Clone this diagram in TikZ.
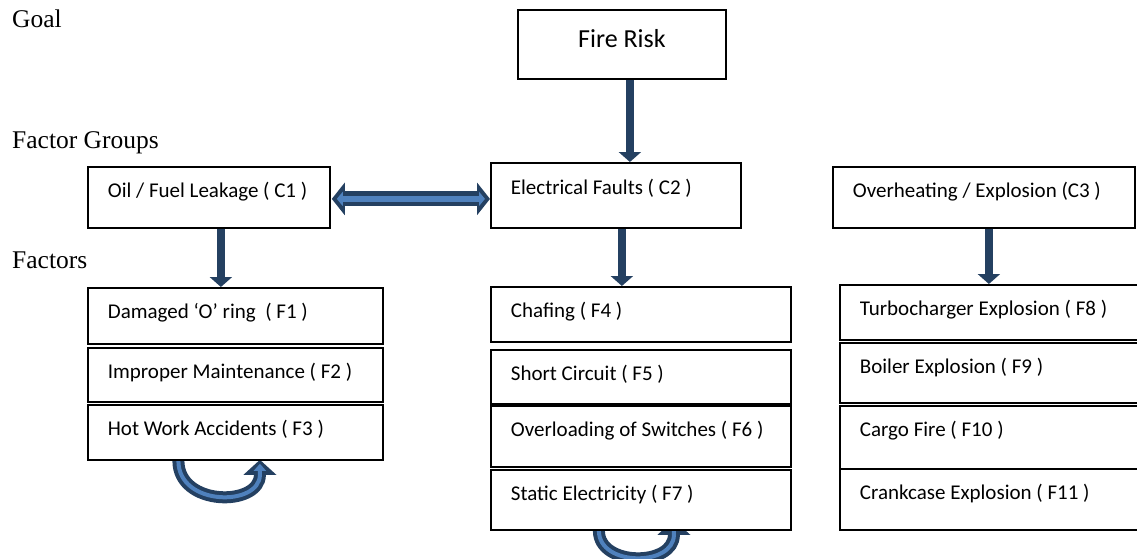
\documentclass[tikz,border=0pt]{standalone}
\usepackage{fontspec}
\setmainfont{Liberation Serif}
\newfontfamily\calfont{Carlito}
\usetikzlibrary{arrows.meta,calc}
\definecolor{navy}{RGB}{36,64,97}
\definecolor{steel}{RGB}{79,129,189}
\pgfdeclarelayer{back}
\pgfdeclarelayer{bg}
\pgfsetlayers{back,bg,main}

\begin{document}
\begin{tikzpicture}[x=1pt,y=-1pt,
  lbl/.style={anchor=base west, inner sep=0pt, font=\fontsize{25.5}{30}\selectfont},
  box/.style={draw=black, fill=white, line width=1.8pt, anchor=north west,
    inner xsep=20pt, inner ysep=0pt, align=flush left, text height=31pt,
    font=\calfont\fontsize{21}{25}\selectfont},
  down/.style={navy, line width=8pt, -{Triangle[width=22pt,length=10pt]}},
  dblout/.style={navy, line width=15pt,
    {Triangle[width=32pt,length=13pt]}-{Triangle[width=32pt,length=13pt]}},
  dblin/.style={steel, line width=6pt,
    {Triangle[width=14pt,length=6pt]}-{Triangle[width=14pt,length=6pt]}},
  loopout/.style={navy, line width=12pt, -{Triangle[width=32pt,length=15pt]}},
  loopin/.style={steel, line width=4pt, -{Triangle[width=12pt,length=7pt]}},
]
\useasboundingbox (0,0) rectangle (1137,559);
\begin{pgfonlayer}{back}
  \fill[white] (0,0) rectangle (1137,559);
\end{pgfonlayer}

% level labels
\node[lbl] (goal) at (12,28) {Goal};
\node[lbl] (groups) at (12,148) {Factor Groups};
\node[lbl] (factors) at (12,268) {Factors};

% goal
\node[box, align=flush center, inner xsep=0pt, text width=208pt, text height=38pt,
  text depth=31pt, font=\calfont\fontsize{26}{30}\selectfont] (fire) at (517,9) {Fire Risk};

% factor groups
\node[box, text width=202pt, text depth=30pt] (c1) at (87,166) {Oil / Fuel Leakage ( C1 )};
\node[box, text width=210pt, text height=32pt, text depth=33pt] (c2) at (490,162) {Electrical Faults ( C2 )};
\node[box, text width=262pt, text depth=30pt] (c3) at (832,166) {Overheating / Explosion (C3 )};

% factors of C1
\node[box, text width=255pt, text depth=25pt] (f1) at (87,287) {Damaged ‘O’ ring~ ( F1 )};
\node[box, text width=255pt, text depth=23pt] (f2) at (87,347) {Improper Maintenance ( F2 )};
\node[box, text width=255pt, text depth=24pt] (f3) at (87,404) {Hot Work Accidents ( F3 )};

% factors of C2
\node[box, text width=260pt, text depth=24pt] (f4) at (490,286) {Chafing ( F4 )};
\node[box, text width=260pt, text depth=23pt] (f5) at (490,349) {Short Circuit ( F5 )};
\node[box, text width=260pt, text depth=30pt] (f6) at (490,405) {Overloading of Switches ( F6 )};
\node[box, text width=260pt, text depth=29pt] (f7) at (490,469) {Static Electricity ( F7 )};

% factors of C3
\node[box, text width=266pt, text depth=24pt] (f8) at (839,284) {Turbocharger Explosion ( F8 )};
\node[box, text width=266pt, text depth=29pt] (f9) at (839,342) {Boiler Explosion ( F9 )};
\node[box, text width=266pt, text depth=32pt] (f10) at (839,405) {Cargo Fire ( F10 )};
\node[box, text width=266pt, text depth=30pt] (f11) at (839,468) {Crankcase Explosion ( F11 )};

% downward links
\coordinate (a0) at ($(fire.south)+(8,0)$);
\draw[down] (a0) -- (a0 |- c2.north);
\coordinate (a1) at ($(c1.south)+(12,0)$);
\draw[down] (a1) -- (a1 |- f1.north);
\coordinate (a2) at ($(c2.south)+(6,0)$);
\draw[down] (a2) -- (a2 |- f4.north);
\coordinate (a3) at ($(c3.south)+(5,0)$);
\draw[down] (a3) -- (a3 |- f8.north);

% two-way link between C1 and C2
\coordinate (da) at ($(c1.east)+(1,1.5)$);
\coordinate (db) at (c2.west |- da);
\draw[dblout] (da) -- (db);
\draw[dblin] ($(da)+(5,0)$) -- ($(db)+(-5,0)$);

% feedback loops under the factor stacks
\begin{pgfonlayer}{bg}
  \coordinate (l0) at ($(f3.south)+(-57,0)$);
  \coordinate (l1) at ($(f3.south)+(24.5,14)$);
  \draw[loopout] (l0) .. controls ++(0,46) and ($(l1)+(0,32)$) .. (l1) -- ++(0,-15);
  \draw[loopin] (l0) .. controls ++(0,46) and ($(l1)+(0,32)$) .. (l1) -- ++(0,-11);
  \coordinate (r0) at ($(f7.south)+(-42,0)$);
  \coordinate (r1) at ($(f7.south)+(33,4)$);
  \draw[loopout] (r0) .. controls ++(0,36) and ($(r1)+(0,32)$) .. (r1) -- ++(0,-15);
  \draw[loopin] (r0) .. controls ++(0,36) and ($(r1)+(0,32)$) .. (r1) -- ++(0,-11);
\end{pgfonlayer}
\end{tikzpicture}
\end{document}
